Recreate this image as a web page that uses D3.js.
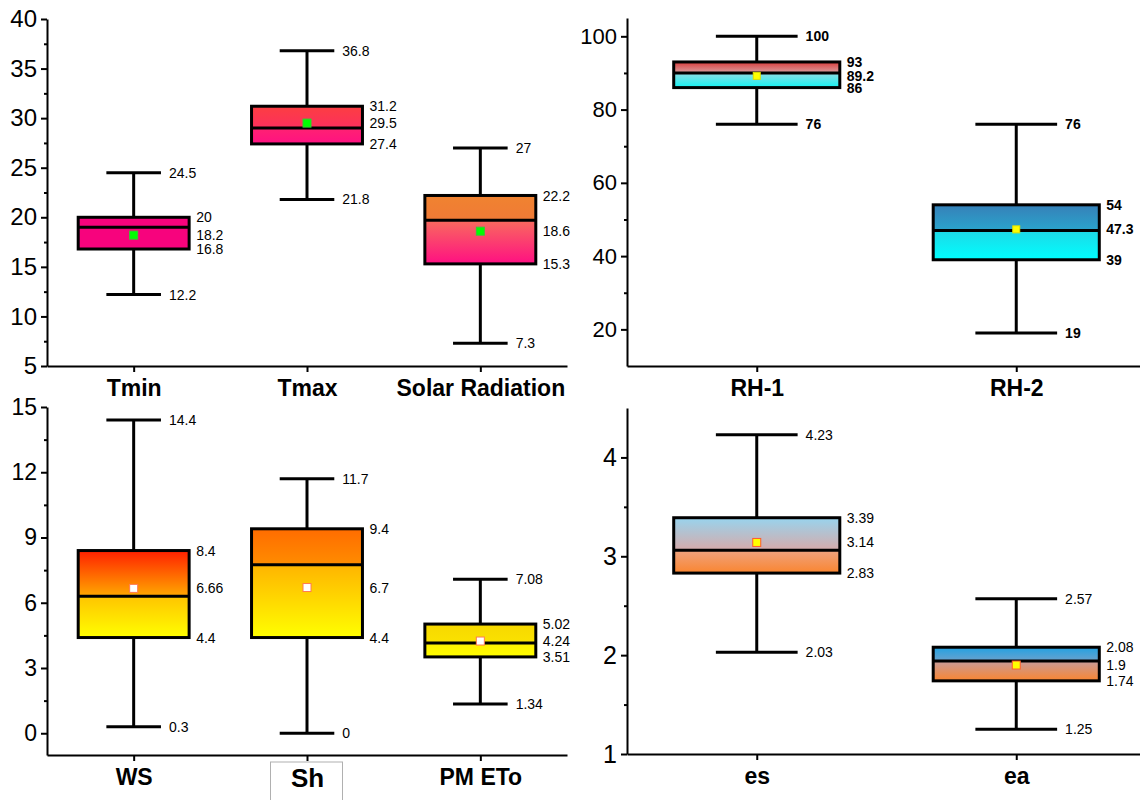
<!DOCTYPE html>
<html>
<head>
<meta charset="utf-8">
<script src="https://cdn.jsdelivr.net/npm/d3@7"></script>
<style>
  body { margin: 0; background: #fff; }
  svg { display: block; font-family: "Liberation Sans", Arial, sans-serif; }
</style>
</head>
<body>
<svg id="chart" width="1140" height="800"></svg>
<script>
// box statistics, one entry per box
const categories = ["Tmin", "Tmax", "Solar Radiation", "RH-1", "RH-2", "WS", "Sh", "PM ETo", "es", "ea"];
const panelOf    = [0, 0, 0, 1, 1, 2, 2, 2, 3, 3];
const mins    = [12.2, 21.8, 7.3, 76, 19, 0.3, 0, 1.34, 2.03, 1.25];
const q1s     = [16.8, 27.4, 15.3, 86, 39, 4.4, 4.4, 3.51, 2.83, 1.74];
const medians = [19, 29, 19.7, 90, 47, 6.3, 7.75, 4.15, 3.06, 1.94];
const means   = [18.2, 29.5, 18.6, 89.2, 47.3, 6.66, 6.7, 4.24, 3.14, 1.9];
const q3s     = [20, 31.2, 22.2, 93, 54, 8.4, 9.4, 5.02, 3.39, 2.08];
const maxs    = [24.5, 36.8, 27, 100, 76, 14.4, 11.7, 7.08, 4.23, 2.57];

// y tick labels per panel
const yTicks1 = [5, 10, 15, 20, 25, 30, 35, 40];
const yTicks2 = [20, 40, 60, 80, 100];
const yTicks3 = [0, 3, 6, 9, 12, 15];
const yTicks4 = [1, 2, 3, 4];
const yMinor1 = [7.5, 12.5, 17.5, 22.5, 27.5, 32.5, 37.5];
const yMinor2 = [30, 50, 70, 90];
const yMinor3 = [1.5, 4.5, 7.5, 10.5, 13.5];
const yMinor4 = [1.5, 2.5, 3.5];

// fill gradients: [upper top, upper bottom, lower top, lower bottom]
const boxFills = [
  ["#f7037d", "#f7037d", "#f7037d", "#f7037d"],
  ["#fc3e42", "#fc2f5c", "#ff2272", "#ff1182"],
  ["#f08330", "#f07a36", "#f86b5e", "#ff0f82"],
  ["#d93c3c", "#d8a0a0", "#90dce2", "#12f2f2"],
  ["#3680b8", "#2aa4cc", "#1ed8e6", "#00ffff"],
  ["#ff2000", "#ffa800", "#ffc400", "#ffff00"],
  ["#ff6c00", "#ff8c00", "#ffb400", "#ffff00"],
  ["#f7d800", "#fae200", "#ffee00", "#ffff00"],
  ["#98d4ee", "#d6aaaa", "#efa37f", "#fa8530"],
  ["#22a2e2", "#6aa2cc", "#c89c9a", "#fa8530"]
];

const panels = [
  { x0: 47,  x1: 567,  yTop: 19,  yBot: 366, domain: [5, 40],   ticks: yTicks1, minor: yMinor1, tickFont: 24, bold: false, meanFill: "#00ff00", meanStroke: "#33cc33", meanSize: 8 },
  { x0: 627, x1: 1146, yTop: 18,  yBot: 366, domain: [10, 105], ticks: yTicks2, minor: yMinor2, tickFont: 22, bold: true,  meanFill: "#ffff00", meanStroke: "#e0e000", meanSize: 7 },
  { x0: 47,  x1: 567,  yTop: 407, yBot: 755, domain: [-1, 15],  ticks: yTicks3, minor: yMinor3, tickFont: 23, bold: false, meanFill: "#ffffff", meanStroke: "#ff7a50", meanSize: 8 },
  { x0: 627, x1: 1146, yTop: 408, yBot: 754, domain: [1, 4.5],  ticks: yTicks4, minor: yMinor4, tickFont: 25, bold: false, meanFill: "#ffff00", meanStroke: "#ff5a30", meanSize: 8 }
];

const svg = d3.select("#chart");
const defs = svg.append("defs");

function gradient(id, c1, c2) {
  const g = defs.append("linearGradient").attr("id", id)
    .attr("x1", 0).attr("y1", 0).attr("x2", 0).attr("y2", 1);
  g.append("stop").attr("offset", "0%").attr("stop-color", c1);
  g.append("stop").attr("offset", "100%").attr("stop-color", c2);
}

panels.forEach(function (p, pi) {
  const idx = d3.range(categories.length).filter(i => panelOf[i] === pi);
  const cats = idx.map(i => categories[i]);

  const x = d3.scalePoint().domain(cats).range([p.x0, p.x1]).padding(0.5);
  const y = d3.scaleLinear().domain(p.domain).range([p.yBot, p.yTop]);
  const step = x.step();
  const boxW = step * 0.64;
  const capW = step * 0.315;

  const g = svg.append("g");

  // minor y ticks
  g.append("g")
    .attr("transform", `translate(${p.x0},0)`)
    .call(d3.axisLeft(y).tickValues(p.minor).tickSize(3).tickFormat(""))
    .call(s => s.select(".domain").remove())
    .call(s => s.selectAll("line").attr("stroke-width", 2));

  // major y axis
  g.append("g")
    .attr("transform", `translate(${p.x0},0)`)
    .call(d3.axisLeft(y).tickValues(p.ticks).tickSize(6).tickSizeOuter(0).tickPadding(4).tickFormat(d3.format("d")))
    .call(s => s.select(".domain").attr("stroke-width", 2))
    .call(s => s.selectAll("line").attr("stroke-width", 2))
    .call(s => s.selectAll("text").attr("font-size", p.tickFont).attr("fill", "#000")
      .attr("font-family", "'Liberation Sans', Arial, sans-serif"));

  // x axis
  const xa = g.append("g")
    .attr("transform", `translate(0,${p.yBot})`)
    .call(d3.axisBottom(x).tickSize(6).tickSizeOuter(0).tickPadding(8))
    .call(s => s.select(".domain").attr("stroke-width", 2))
    .call(s => s.selectAll("line").attr("stroke-width", 2))
    .call(s => s.selectAll("text").attr("font-size", 23).attr("font-weight", "bold").attr("fill", "#000")
      .attr("font-family", "'Liberation Sans', Arial, sans-serif"));

  // the "Sh" label sits in a little text frame
  xa.selectAll(".tick").filter(d => d === "Sh").each(function () {
    const t = d3.select(this);
    t.insert("rect", "text")
      .attr("x", -37).attr("y", 7).attr("width", 72).attr("height", 50)
      .attr("fill", "#fff").attr("stroke", "#b0b0b0").attr("stroke-width", 1);
    t.select("text").attr("font-size", 26).attr("dy", "0.78em").attr("y", 12);
  });

  idx.forEach(function (i) {
    const cx = x(categories[i]);
    const f = boxFills[i];
    gradient(`up${i}`, f[0], f[1]);
    gradient(`lo${i}`, f[2], f[3]);

    // whiskers
    g.append("line").attr("x1", cx).attr("x2", cx).attr("y1", y(maxs[i])).attr("y2", y(q3s[i]))
      .attr("stroke", "#000").attr("stroke-width", 3);
    g.append("line").attr("x1", cx).attr("x2", cx).attr("y1", y(q1s[i])).attr("y2", y(mins[i]))
      .attr("stroke", "#000").attr("stroke-width", 3);
    [maxs[i], mins[i]].forEach(v => {
      g.append("line").attr("x1", cx - capW / 2).attr("x2", cx + capW / 2).attr("y1", y(v)).attr("y2", y(v))
        .attr("stroke", "#000").attr("stroke-width", 3);
    });

    // box fill (two halves), outline, median
    g.append("rect").attr("x", cx - boxW / 2).attr("width", boxW)
      .attr("y", y(q3s[i])).attr("height", y(medians[i]) - y(q3s[i]))
      .attr("fill", `url(#up${i})`);
    g.append("rect").attr("x", cx - boxW / 2).attr("width", boxW)
      .attr("y", y(medians[i])).attr("height", y(q1s[i]) - y(medians[i]))
      .attr("fill", `url(#lo${i})`);
    g.append("rect").attr("x", cx - boxW / 2).attr("width", boxW)
      .attr("y", y(q3s[i])).attr("height", y(q1s[i]) - y(q3s[i]))
      .attr("fill", "none").attr("stroke", "#000").attr("stroke-width", 3);
    g.append("line").attr("x1", cx - boxW / 2).attr("x2", cx + boxW / 2)
      .attr("y1", y(medians[i])).attr("y2", y(medians[i]))
      .attr("stroke", "#000").attr("stroke-width", 3);

    // mean marker
    const s = p.meanSize;
    g.append("rect").attr("x", cx - s / 2).attr("y", y(means[i]) - s / 2)
      .attr("width", s).attr("height", s)
      .attr("fill", p.meanFill).attr("stroke", p.meanStroke).attr("stroke-width", 1);

    // value labels
    const lab = [
      [maxs[i], cx + capW / 2 + 8],
      [mins[i], cx + capW / 2 + 8],
      [q3s[i], cx + boxW / 2 + 7],
      [means[i], cx + boxW / 2 + 7],
      [q1s[i], cx + boxW / 2 + 7]
    ];
    lab.forEach(function (l) {
      g.append("text").attr("x", l[1]).attr("y", y(l[0])).attr("dy", "0.36em")
        .attr("font-size", 14).attr("font-weight", p.bold ? "bold" : "normal")
        .attr("fill", "#000").text(String(l[0]));
    });
  });
});
</script>
</body>
</html>
